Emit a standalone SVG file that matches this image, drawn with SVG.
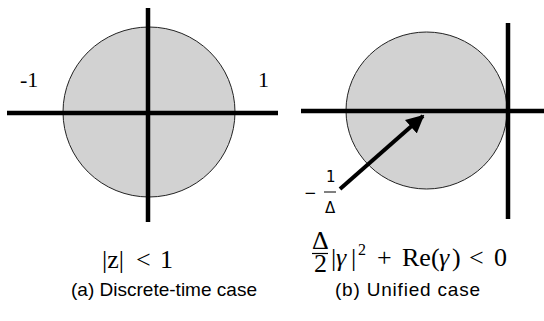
<svg xmlns="http://www.w3.org/2000/svg" width="544" height="321" viewBox="0 0 544 321">
<style>
.disk{fill:#d2d2d2;stroke:#222;stroke-width:1}
.axis{stroke:#000;stroke-width:4.5;fill:none}
.lbl{font-family:"Liberation Serif","Times New Roman",serif;font-size:22px;fill:#000}
.math{font-family:"Liberation Serif","DejaVu Serif",serif;font-size:26px;fill:#000}
.frac{font-family:"DejaVu Sans","Liberation Sans",sans-serif;font-size:15px;fill:#000}
.cap{font-family:"Liberation Sans",Arial,sans-serif;font-size:19px;fill:#000}
.it{font-style:italic}
</style>
<defs>
<marker id="ah" viewBox="0 0 10 10" refX="9" refY="5" markerWidth="4.5" markerHeight="4.5" orient="auto" markerUnits="strokeWidth">
<path d="M0,0 L10,5 L0,10 z" fill="#000"/>
</marker>
</defs>
<g id="panel-a">
<ellipse class="disk" cx="149" cy="112" rx="86" ry="85"/>
<line class="axis" x1="7" y1="113" x2="278" y2="113"/>
<line class="axis" x1="148" y1="8" x2="148" y2="222"/>
<text class="lbl" x="20" y="87">-1</text>
<text class="lbl" x="258" y="87">1</text>
</g>
<g id="panel-b">
<ellipse class="disk" cx="426.5" cy="110.5" rx="80.5" ry="78.5"/>
<line class="axis" x1="301" y1="111" x2="544" y2="111"/>
<line class="axis" x1="508" y1="23" x2="508" y2="219"/>
</g>
<g id="connectors">
<line x1="340" y1="189" x2="423" y2="116" stroke="#000" stroke-width="4" marker-end="url(#ah)"/>
</g>
<g id="label-center">
<text class="frac" x="304" y="198">−</text>
<text class="frac" x="326" y="182">1</text>
<line x1="324" y1="192" x2="336" y2="192" stroke="#000" stroke-width="1"/>
<text class="frac" x="325" y="213">Δ</text>
</g>
<g id="eq-a">
<text class="math" y="268"><tspan x="102">|z|</tspan><tspan x="136">&lt;</tspan><tspan x="160">1</tspan></text>
</g>
<g id="eq-b">
<text class="math" x="312" y="249" font-size="20">Δ</text>
<line x1="312" y1="253.5" x2="328" y2="253.5" stroke="#000" stroke-width="1.2"/>
<text class="math" x="314" y="272" font-size="22">2</text>
<text class="math" y="266"><tspan x="331">|</tspan><tspan class="it" x="336">γ</tspan><tspan x="351">|</tspan><tspan x="358" font-size="16" dy="-11">2</tspan><tspan x="377" dy="11">+</tspan><tspan x="402">Re(</tspan><tspan class="it" x="439">γ</tspan><tspan x="452">)</tspan><tspan x="469">&lt;</tspan><tspan x="494">0</tspan></text>
</g>
<g id="captions">
<text class="cap" x="71" y="296" textLength="186" lengthAdjust="spacingAndGlyphs">(a) Discrete-time case</text>
<text class="cap" x="335" y="296" textLength="145" lengthAdjust="spacing">(b) Unified case</text>
</g>
</svg>
